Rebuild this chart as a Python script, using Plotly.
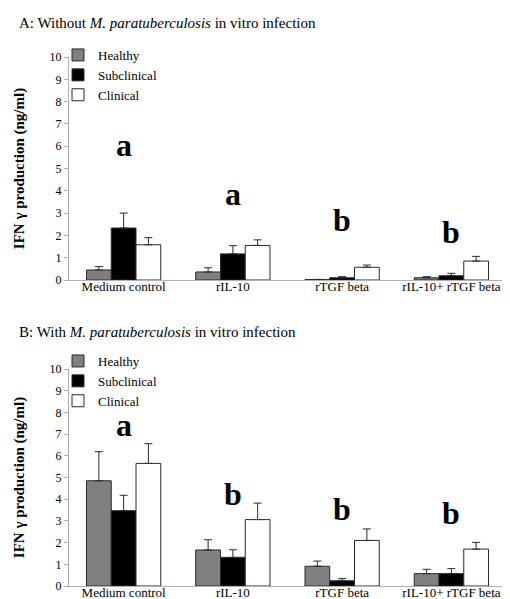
import plotly.graph_objects as go

categories = ["Medium control", "rIL-10", "rTGF beta", "rIL-10+ rTGF beta"]
groups = ["Healthy", "Subclinical", "Clinical"]

# Panel A: without M. paratuberculosis infection
a_healthy = [0.45, 0.36, 0.02, 0.10]
a_healthy_err = [0.15, 0.19, 0.01, 0.05]
a_sub = [2.33, 1.17, 0.10, 0.19]
a_sub_err = [0.67, 0.37, 0.05, 0.11]
a_clin = [1.58, 1.55, 0.57, 0.85]
a_clin_err = [0.32, 0.25, 0.10, 0.21]
a_letters = ["a", "a", "b", "b"]
a_letter_y = [6.05, 3.85, 2.7, 2.15]

# Panel B: with M. paratuberculosis infection
b_healthy = [4.85, 1.66, 0.91, 0.57]
b_healthy_err = [1.34, 0.47, 0.24, 0.20]
b_sub = [3.47, 1.32, 0.24, 0.57]
b_sub_err = [0.71, 0.35, 0.10, 0.23]
b_clin = [5.65, 3.06, 2.10, 1.70]
b_clin_err = [0.91, 0.76, 0.53, 0.31]
b_letters = ["a", "b", "b", "b"]
b_letter_y = [7.4, 4.25, 3.55, 3.35]

yticks = list(range(0, 11))

FONT = "Liberation Serif"
colors = ["#808080", "#000000", "#ffffff"]
OUT = "#2a2a2a"

fig = go.Figure()

def add_panel(vals, errs, xa, ya, legend):
    for name, v, e, c in zip(groups, vals, errs, colors):
        fig.add_trace(go.Bar(
            x=categories, y=v, name=name, xaxis=xa, yaxis=ya,
            marker=dict(color=c, line=dict(color=OUT, width=1)),
            error_y=dict(type="data", array=e, symmetric=False, arrayminus=[0]*len(e),
                         color=OUT, thickness=1, width=4),
            legend=legend, showlegend=True,
        ))

add_panel([a_healthy, a_sub, a_clin], [a_healthy_err, a_sub_err, a_clin_err], "x", "y", "legend")
add_panel([b_healthy, b_sub, b_clin], [b_healthy_err, b_sub_err, b_clin_err], "x2", "y2", "legend2")

annotations = []
for cat, t, yv in zip(categories, a_letters, a_letter_y):
    annotations.append(dict(x=cat, y=yv, xref="x", yref="y", text="<b>%s</b>" % t, showarrow=False,
                            font=dict(family=FONT, size=32, color="#000")))
for cat, t, yv in zip(categories, b_letters, b_letter_y):
    annotations.append(dict(x=cat, y=yv, xref="x2", yref="y2", text="<b>%s</b>" % t, showarrow=False,
                            font=dict(family=FONT, size=32, color="#000")))

W, H = 510, 599
ml, mr, mt, mb = 61, 12, 49, 21
pw, ph = W - ml - mr, H - mt - mb

def px_x(p):
    return (p - ml) / pw

def px_y(p):
    return (H - mb - p) / ph

annotations.append(dict(x=px_x(9), y=px_y(15), xref="paper", yref="paper", xanchor="left", yanchor="middle",
                        text="A: Without <i>M. paratuberculosis</i> in vitro infection", showarrow=False,
                        font=dict(family=FONT, size=15, color="#000")))
annotations.append(dict(x=px_x(9), y=px_y(324), xref="paper", yref="paper", xanchor="left", yanchor="middle",
                        text="B: With <i>M. paratuberculosis</i> in vitro infection", showarrow=False,
                        font=dict(family=FONT, size=15, color="#000")))

yaxis_common = dict(range=[0, 10], tickvals=yticks, ticks="outside", ticklen=4, tickcolor="#b0b0b0",
                    showline=True, linecolor="#b0b0b0", linewidth=1, showgrid=False, zeroline=False,
                    tickfont=dict(family=FONT, size=12, color="#000"), automargin=False,
                    title=dict(text="<b>IFN γ production (ng/ml)</b>", font=dict(family=FONT, size=15, color="#000"),
                               standoff=21))
xaxis_common = dict(showline=True, linecolor="#b0b0b0", linewidth=1, ticks="", showgrid=False,
                    tickfont=dict(family=FONT, size=13, color="#000"), automargin=False,
                    ticklabelstandoff=-6)

legend_common = dict(font=dict(family=FONT, size=13, color="#000"), bgcolor="rgba(0,0,0,0)",
                     borderwidth=0, xanchor="left", yanchor="top", tracegroupgap=0, itemclick=False)

fig.update_layout(
    width=W, height=H, margin=dict(l=ml, r=mr, t=mt, b=mb),
    paper_bgcolor="white", plot_bgcolor="white",
    font=dict(family=FONT, color="#000"),
    barmode="group", bargap=0.32, bargroupgap=0,
    xaxis=dict(domain=[0, 1], anchor="y", **xaxis_common),
    yaxis=dict(domain=[px_y(272), px_y(49)], anchor="x", **yaxis_common),
    xaxis2=dict(domain=[0, 1], anchor="y2", **xaxis_common),
    yaxis2=dict(domain=[px_y(578), px_y(361)], anchor="x2", **yaxis_common),
    legend=dict(x=px_x(50), y=px_y(32), **legend_common),
    legend2=dict(x=px_x(50), y=px_y(338), **legend_common),
    annotations=annotations,
    showlegend=True,
)

fig.write_html("out.html")
